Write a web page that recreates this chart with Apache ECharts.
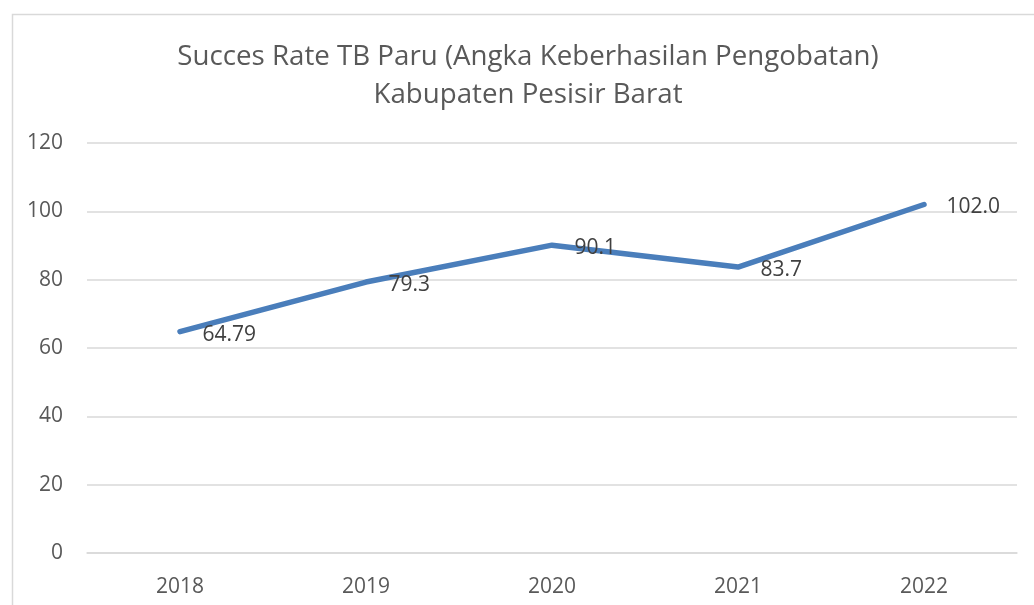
<!DOCTYPE html>
<html>
<head>
<meta charset="utf-8">
<script src="https://cdn.jsdelivr.net/npm/echarts@6/dist/echarts.min.js"></script>
<style>
  html, body { margin: 0; padding: 0; background: #ffffff; }
  #chart { width: 1034px; height: 605px; }
</style>
</head>
<body>
<div id="chart"></div>
<script>
// Tahun pengamatan
const years = ['2018', '2019', '2020', '2021', '2022'];
// Angka keberhasilan pengobatan TB paru (%)
const successRate = [64.79, 79.3, 90.1, 83.7, 102.0];
// Jumlah desimal yang ditampilkan pada label tiap titik
const labelDecimals = [2, 1, 1, 1, 1];
// Judul grafik
const titleLines = ['Succes Rate TB Paru (Angka Keberhasilan Pengobatan)', 'Kabupaten Pesisir Barat'];

const FONT = '"Open Sans", "Noto Sans", sans-serif';
const chart = echarts.init(document.getElementById('chart'), null, { renderer: 'canvas' });

chart.setOption({
  backgroundColor: '#ffffff',
  animation: false,
  graphic: [{
    type: 'rect',
    left: 10, top: 12,
    shape: { width: 1036, height: 640 },
    style: { fill: 'none', stroke: '#d9d9d9', lineWidth: 1.5 },
    silent: true,
    z: -1
  }],
  title: {
    text: titleLines.join('\n'),
    left: 523,
    textAlign: 'center',
    top: 33,
    textStyle: {
      fontFamily: FONT,
      fontSize: 27.7,
      fontWeight: 'normal',
      color: '#595959',
      lineHeight: 38
    }
  },
  grid: { left: 87, right: 17, top: 143, bottom: 52 },
  xAxis: {
    type: 'category',
    data: years,
    boundaryGap: true,
    axisLine: { show: true, lineStyle: { color: '#d9d9d9', width: 1.5 } },
    axisTick: { show: false },
    axisLabel: { margin: 24, fontFamily: FONT, fontSize: 21, color: '#595959' }
  },
  yAxis: {
    type: 'value',
    min: 0, max: 120, interval: 20,
    axisLine: { show: false },
    axisTick: { show: false },
    splitLine: { lineStyle: { color: '#d9d9d9', width: 1.5 } },
    axisLabel: { margin: 24, fontFamily: FONT, fontSize: 21, color: '#595959' }
  },
  series: [{
    type: 'line',
    data: successRate,
    symbol: 'circle',
    symbolSize: 3,
    showSymbol: true,
    itemStyle: { color: '#4a7ebb' },
    lineStyle: { color: '#4a7ebb', width: 5.5, cap: 'round', join: 'round' },
    label: {
      show: true,
      position: 'right',
      distance: 21,
      offset: [0, 3],
      fontFamily: FONT,
      fontSize: 21,
      color: '#404040',
      formatter: p => successRate[p.dataIndex].toFixed(labelDecimals[p.dataIndex])
    }
  }]
});
</script>
</body>
</html>
